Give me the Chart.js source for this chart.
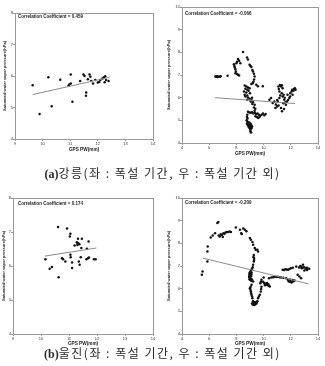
<!DOCTYPE html>
<html><head><meta charset="utf-8">
<script src="https://cdn.jsdelivr.net/npm/chart.js@4.4.1/dist/chart.umd.min.js"></script>
<style>
html,body{margin:0;padding:0;background:#fff;}
#wrap{position:relative;width:325px;height:366px;overflow:hidden;background:#fff;}
canvas{position:absolute;}
.cap{position:absolute;left:0;width:325px;text-align:center;font-family:"Noto Sans CJK KR",sans-serif;font-size:12px;letter-spacing:1.5px;line-height:14px;color:#2a2a2a;white-space:nowrap;}
.cap b{font-family:"Liberation Serif",serif;font-weight:bold;letter-spacing:0;}
</style></head><body>
<div id="wrap">
<canvas id="c1" width="162" height="153" style="left:0;top:0"></canvas>
<canvas id="c2" width="162" height="160" style="left:163px;top:0"></canvas>
<canvas id="c3" width="162" height="167" style="left:0;top:180px"></canvas>
<canvas id="c4" width="162" height="167" style="left:163px;top:180px"></canvas>
<div class="cap" style="top:166px"><b>(a)</b>강릉(좌 : 폭설 기간, 우 : 폭설 기간 외)</div>
<div class="cap" style="top:346px"><b>(b)</b>울진(좌 : 폭설 기간, 우 : 폭설 기간 외)</div>
</div>
<script>
// ---- (a) Gangneung, snowfall period ----
const gnSnowX = [9.64,9.89,10.21,10.33,10.64,10.94,10.97,11.02,11.02,11.08,11.36,11.48,11.52,11.57,11.58,11.64,11.70,11.73,11.76,11.83,11.91,12.00,12.05,12.09,12.17,12.22,12.25,12.27,12.30,12.39];
const gnSnowY = [5.71,4.79,5.96,5.04,5.88,5.69,5.73,5.76,6.05,5.18,5.84,6.05,6.00,5.37,5.48,5.90,6.05,5.98,5.84,5.76,5.87,5.79,5.81,5.87,5.92,5.96,5.80,5.99,5.87,5.84];
const gnSnowTrendX = [9.64,12.43];
const gnSnowTrendY = [5.41,5.96];
const gnSnowR = "0.459";

// ---- (a) Gangneung, outside snowfall period ----
const gnOtherX = [6.45,6.52,6.58,6.63,6.70,6.78,6.85,7.35,
 7.82,7.85,7.88,7.92,7.96,8.00,8.05,8.12,8.20,8.29,7.93,8.05,8.12,8.20,
 8.49,8.78,8.85,8.97,9.03,9.10,9.18,9.22,9.29,9.34,9.30,9.25,9.20,9.10,9.46,9.58,9.94,
 8.61,8.73,8.85,8.66,8.80,8.97,8.56,8.73,8.61,8.80,8.66,8.85,8.97,8.80,9.10,9.05,9.22,9.17,9.34,9.29,9.39,9.34,9.00,8.90,9.15,
 8.85,8.95,9.05,9.15,9.25,9.35,9.45,9.55,9.65,9.75,9.85,9.95,10.05,10.15,9.50,9.60,9.70,9.40,
 8.80,8.78,8.82,8.75,8.80,8.85,8.78,8.83,8.90,8.95,8.88,9.00,8.92,9.05,9.00,9.10,9.05,9.02,9.08,8.95,9.05,9.10,9.15,
 10.43,10.55,10.67,10.79,10.87,10.99,11.04,11.16,11.16,11.09,11.28,11.40,11.33,11.47,11.52,11.64,11.72,11.89,11.96,12.06,12.20,12.30,12.13,11.76,11.28,
 11.20,11.35,11.12,11.22,11.40,11.55,11.60,11.45,11.80,11.95,12.10,12.25,12.35,11.00,10.90,11.10,11.35,11.50];
const gnOtherY = [6.93,6.92,6.94,6.91,6.93,6.92,6.94,6.97,
 7.47,7.40,7.33,7.25,7.15,7.52,7.58,7.71,7.63,7.52,7.08,7.04,7.01,6.98,
 8.01,7.77,7.68,7.45,7.40,7.35,7.22,7.15,7.06,6.93,6.80,6.70,6.64,6.60,6.57,6.50,6.50,
 6.54,6.49,6.45,6.39,6.35,6.42,6.27,6.23,6.13,6.10,6.05,6.01,5.95,5.91,5.91,5.83,5.80,5.72,5.69,5.57,5.51,5.42,6.20,6.30,6.00,
 5.38,5.35,5.33,5.36,5.30,5.33,5.28,5.30,5.25,5.20,5.25,5.30,5.22,5.28,5.15,5.10,5.15,5.18,
 5.25,5.15,5.08,5.00,4.95,4.90,4.85,4.80,4.82,4.78,4.75,4.72,4.68,4.70,4.63,4.65,4.58,4.52,4.46,4.90,4.85,4.78,4.72,
 5.91,5.98,5.76,5.83,5.54,5.61,5.83,5.98,6.27,6.49,6.49,6.42,6.20,6.13,5.91,5.69,5.83,5.98,6.20,6.27,6.30,6.42,6.13,6.13,5.54,
 6.56,6.55,6.38,6.10,6.05,6.00,5.80,5.75,5.90,6.05,6.35,6.38,6.35,5.90,5.70,5.65,5.40,5.50];
const gnOtherTrendX = [6.43,12.30];
const gnOtherTrendY = [6.00,5.74];
const gnOtherR = "-0.066";

// ---- (b) Uljin, snowfall period ----
const ujSnowX = [10.61,10.93,11.05,11.03,11.32,11.46,11.70,11.28,11.31,11.34,11.37,11.30,11.20,11.44,11.64,11.05,11.06,10.75,10.79,10.16,10.87,11.11,11.35,11.42,11.62,11.68,11.71,11.89,11.95,11.11,11.38,10.39,10.31,10.63];
const ujSnowY = [7.15,7.10,6.95,6.87,6.80,6.80,6.72,6.70,6.68,6.66,6.64,6.62,6.60,6.53,6.51,6.33,6.26,6.23,6.20,6.20,6.13,6.10,6.13,6.26,6.20,6.23,6.25,6.20,6.20,5.94,6.04,5.97,5.92,5.67];
const ujSnowTrendX = [10.13,11.98];
const ujSnowTrendY = [6.29,6.53];
const ujSnowR = "0.174";

// ---- (b) Uljin, outside snowfall period ----
const ujOtherX = [5.46,5.51,5.87,5.87,5.89,
 6.11,6.26,6.43,6.60,6.67,6.70,6.78,6.85,6.93,7.00,7.05,7.12,7.20,7.30,7.40,7.50,7.60,7.96,8.26,8.35,8.40,8.50,8.62,8.74,8.99,9.06,9.18,9.23,9.35,9.42,9.54,9.59,9.28,9.30,9.28,9.23,9.25,9.30,
 9.20,9.15,9.10,9.05,9.00,8.97,9.02,8.95,9.00,8.93,8.98,9.05,9.10,9.12,9.08,8.96,9.02,9.10,9.15,
 9.23,9.11,9.05,8.99,9.03,9.06,9.08,9.11,9.15,9.18,9.23,9.35,
 9.15,9.20,9.25,9.30,9.35,9.40,9.45,9.50,9.55,9.28,9.22,9.38,9.48,
 9.59,9.65,9.72,9.79,9.82,9.84,9.76,9.84,9.80,
 9.96,10.05,10.10,10.15,10.20,10.30,10.40,10.45,10.00,10.10,10.25,10.35,
 10.40,10.57,10.70,10.81,10.93,11.05,11.18,11.30,11.45,11.66,
 11.78,11.85,11.92,12.00,12.10,12.20,12.27,12.15,11.95,12.05,
 11.40,11.50,11.60,11.70,11.80,11.90,12.00,12.15,12.40,12.60,12.75,12.80,12.90,13.00,13.10,13.20,13.35,13.00,13.20,12.50,12.63,12.76,12.70,12.90];
const ujOtherY = [6.61,6.76,7.20,7.64,7.86,
 8.26,8.35,8.45,8.90,8.94,8.35,8.30,8.40,8.37,8.28,8.45,8.42,8.48,8.50,8.50,8.52,8.50,8.70,8.60,8.45,8.41,8.65,8.60,8.53,8.23,8.16,8.06,7.94,7.79,7.72,7.72,7.64,7.49,7.35,7.20,7.05,7.40,7.27,
 6.95,6.88,6.82,6.78,6.72,6.68,6.65,6.60,6.57,6.52,6.48,6.45,6.62,6.70,6.55,6.42,6.38,6.35,6.40,
 6.32,6.17,6.08,6.02,5.95,5.87,5.80,5.73,5.65,5.58,5.43,5.40,
 5.35,5.30,5.33,5.28,5.32,5.36,5.40,5.42,5.45,5.38,5.45,5.30,5.35,
 5.58,5.65,5.73,5.87,5.98,6.09,6.24,6.39,6.30,
 6.30,6.25,6.20,6.22,6.18,6.15,6.12,6.10,6.49,6.15,6.25,6.20,
 6.46,6.49,6.50,6.53,6.52,6.53,6.50,6.49,6.48,6.46,
 6.39,6.33,6.30,6.32,6.30,6.33,6.36,6.38,6.40,6.27,
 6.83,6.82,6.86,6.85,6.83,6.87,6.90,6.92,6.98,6.93,6.98,6.90,6.93,6.95,6.88,6.92,6.88,6.80,6.82,6.61,6.54,6.46,7.00,7.05];
const ujOtherTrendX = [5.53,13.31];
const ujOtherTrendY = [7.35,6.21];
const ujOtherR = "-0.209";

const yTitle = "Saturated water vapor pressure(hPa)";
const xTitle = "GPS PW(mm)";

function pts(xs, ys){ return xs.map((x,i)=>({x:x, y:ys[i]})); }

const boxPlugin = {
  id:'box',
  afterDraw(chart){
    const a = chart.chartArea, c = chart.ctx;
    c.save(); c.strokeStyle='#9a9a9a'; c.lineWidth=1;
    c.strokeRect(Math.round(a.left)+0.5, Math.round(a.top)+0.5, Math.round(a.right-a.left), Math.round(a.bottom-a.top));
    const o = chart.options.plugins.corr;
    c.fillStyle='#222'; c.font='bold '+o.size+'px "Liberation Sans", Arial, sans-serif';
    c.textBaseline='middle'; c.textAlign='left';
    c.fillText('Correlation Coefficient = '+o.r, a.left+o.dx, a.top+o.dy);
    c.restore();
  }
};

function make(id, xs, ys, tx, ty, r, g){
  new Chart(document.getElementById(id), {
    type:'scatter',
    data:{datasets:[
      {data:pts(xs,ys), pointRadius:1.25, pointBackgroundColor:'#111', pointBorderWidth:0, showLine:false, order:2},
      {type:'line', data:pts(tx,ty), borderColor:'#8c8c8c', borderWidth:1, pointRadius:0, showLine:true, fill:false, order:1}
    ]},
    options:{
      responsive:false, animation:false, devicePixelRatio:1,
      layout:{padding:{top:g.top, right:g.right, left:0, bottom:0}},
      plugins:{legend:{display:false}, tooltip:{enabled:false}, corr:{r:r, dx:g.cdx, dy:g.cdy, size:4.5}},
      scales:{
        x:{type:'linear', min:g.xmin, max:g.xmax,
           ticks:{stepSize:g.xstep, font:{size:4, family:'"Liberation Sans", Arial'}, color:'#333', padding:0, maxRotation:0, autoSkip:false},
           grid:{display:true, drawOnChartArea:false, tickLength:2, color:'#9a9a9a'},
           border:{color:'#9a9a9a'},
           title:{display:true, text:xTitle, color:'#222', font:{size:4.7, weight:'bold', family:'"Liberation Sans", Arial'}, padding:{top:0,bottom:g.xtp}},
           afterFit(s){ s.height = g.xh; }},
        y:{type:'linear', min:g.ymin, max:g.ymax,
           ticks:{stepSize:1, font:{size:4, family:'"Liberation Sans", Arial'}, color:'#333', padding:0, autoSkip:false},
           grid:{display:true, drawOnChartArea:false, tickLength:2, color:'#9a9a9a'},
           border:{color:'#9a9a9a'},
           title:{display:true, text:yTitle, color:'#222', font:{size:4, weight:'bold', family:'"Liberation Sans", Arial'}, padding:{top:g.ytp,bottom:0}},
           afterFit(s){ s.width = g.yw; }}
      }
    },
    plugins:[boxPlugin]
  });
}

make('c1', gnSnowX, gnSnowY, gnSnowTrendX, gnSnowTrendY, gnSnowR,
  {top:13, right:9, xh:14, yw:15, xmin:9, xmax:14, xstep:1, ymin:4, ymax:8, xtp:0, ytp:2.6, cdx:3, cdy:4});
make('c2', gnOtherX, gnOtherY, gnOtherTrendX, gnOtherTrendY, gnOtherR,
  {top:7, right:7, xh:17, yw:19, xmin:4, xmax:14, xstep:2, ymin:4, ymax:10, xtp:3, ytp:3.6, cdx:3, cdy:7});
make('c3', ujSnowX, ujSnowY, ujSnowTrendX, ujSnowTrendY, ujSnowR,
  {top:18, right:9, xh:13, yw:13, xmin:9, xmax:14, xstep:1, ymin:4, ymax:8, xtp:0, ytp:1, cdx:5, cdy:6});
make('c4', ujOtherX, ujOtherY, ujOtherTrendX, ujOtherTrendY, ujOtherR,
  {top:18, right:7, xh:13, yw:19, xmin:4, xmax:14, xstep:2, ymin:4, ymax:10, xtp:0, ytp:3.6, cdx:3, cdy:5});
</script>
</body></html>
